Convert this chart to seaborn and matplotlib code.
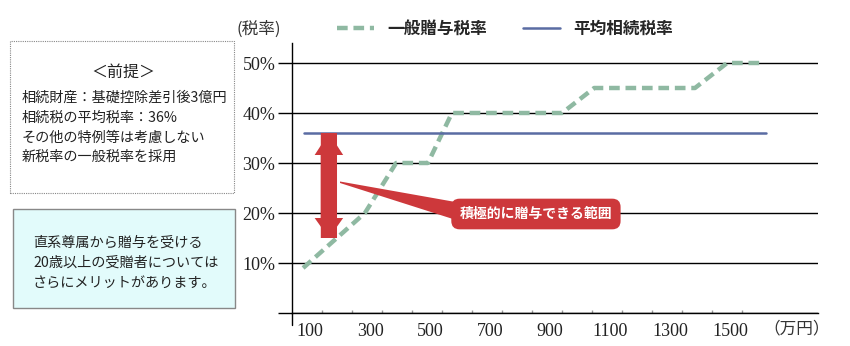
import matplotlib
matplotlib.use("Agg")
import matplotlib.pyplot as plt
import seaborn as sns
import pandas as pd
from matplotlib.lines import Line2D
from matplotlib.patches import Rectangle, Polygon, FancyArrow
from matplotlib.font_manager import FontProperties

# ---------------- data ----------------
gift_x = [77, 180, 283, 387, 493, 573, 940, 1047, 1383, 1490, 1610]
gift_y = [9, 14.5, 20, 30, 30, 40, 40, 45, 45, 50, 50]
avg_x = [80, 1620]
avg_y = [36, 36]
y_ticks = [0, 10, 20, 30, 40, 50]
y_labels = ["", "10%", "20%", "30%", "40%", "50%"]
x_ticks = [100, 300, 500, 700, 900, 1100, 1300, 1500]
x_labels = ["100", "300", "500", "700", "900", "1100", "1300", "1500"]
minor_x = [140, 240, 340, 440, 540, 640, 740, 840, 940, 1040, 1140, 1240, 1340, 1440, 1540]
series_names = ["一般贈与税率", "平均相続税率"]
arrow_x = 163
arrow_range = [15, 36]
callout_text = "積極的に贈与できる範囲"
premise_title = "＜前提＞"
premise_lines = ["相続財産：基礎控除差引後3億円", "相続税の平均税率：36%",
                 "その他の特例等は考慮しない", "新税率の一般税率を採用"]
note_lines = ["直系尊属から贈与を受ける", "20歳以上の受贈者については",
              "さらにメリットがあります。"]

# ---------------- style ----------------
sns.set_style("white")
CJK = ["Noto Sans CJK JP", "DejaVu Sans"]
plt.rcParams["font.family"] = CJK
SERIF = "Liberation Serif"

GREEN = "#8fb9a2"
BLUE = "#5a6ca3"
RED = "#cd383b"

W, H = 850, 346
fig = plt.figure(figsize=(W / 100, H / 100), dpi=100)
ax = fig.add_axes([292 / W, 33 / H, 526 / W, 270 / H])

df_gift = pd.DataFrame({"x": gift_x, "y": gift_y})
df_avg = pd.DataFrame({"x": avg_x, "y": avg_y})
sns.lineplot(data=df_gift, x="x", y="y", ax=ax, color=GREEN, lw=3.2,
             linestyle=(0, (2.4, 1.3)), label=series_names[0], sort=False, zorder=3)
sns.lineplot(data=df_avg, x="x", y="y", ax=ax, color=BLUE, lw=1.8,
             label=series_names[1], sort=False, zorder=3)

ax.set_xlim(40, 1793)
ax.set_ylim(0, 54)
ax.set_xlabel("")
ax.set_ylabel("")
ax.set_yticks(y_ticks)
ax.set_yticklabels(y_labels, family=SERIF, fontsize=13, color="#222")
ax.set_xticks(x_ticks)
ax.set_xticklabels(x_labels, family=SERIF, fontsize=13, color="#222")
ax.set_xticks(minor_x, minor=True)
ax.tick_params(axis="y", which="major", length=10, width=1, color="black",
               direction="out", pad=2, left=True)
ax.tick_params(axis="x", which="major", length=0, pad=7)
ax.tick_params(axis="x", which="minor", length=2, width=1, color="#999",
               direction="in", bottom=True)
ax.grid(axis="y", color="black", lw=1)
ax.grid(axis="x", visible=False)
for s in ["top", "right"]:
    ax.spines[s].set_visible(False)
for s in ["left", "bottom"]:
    ax.spines[s].set_color("black")
    ax.spines[s].set_linewidth(1)
ax.add_line(Line2D([0, 0], [0, -0.045], transform=ax.transAxes, color="black",
                   lw=1, clip_on=False))

# double arrow: two overlapping full-length arrows, heads at opposite ends
lo, hi = arrow_range
ax.add_patch(FancyArrow(arrow_x, lo, 0, hi - lo, width=54, head_width=95,
                        head_length=4.4, length_includes_head=True,
                        color=RED, lw=0, zorder=4))
ax.add_patch(FancyArrow(arrow_x, hi, 0, lo - hi, width=54, head_width=95,
                        head_length=4.0, length_includes_head=True,
                        color=RED, lw=0, zorder=4))

# callout wedge + box
ax.add_patch(Polygon([[200, 26.3], [660, 21.4], [660, 17.2], [200, 26.0]],
                     closed=True, color=RED, lw=0, zorder=4))
ax.text(853, 19.8, callout_text, ha="center", va="center", color="white",
        fontsize=10, fontweight="bold", zorder=5,
        bbox=dict(boxstyle="round,pad=0.6,rounding_size=0.6", fc=RED, ec="none"))

# legend
ax.legend(loc="center left", bbox_to_anchor=(337 / W, 1 - 29 / H),
          bbox_transform=fig.transFigure, ncol=2, frameon=False, borderpad=0,
          borderaxespad=0, handlelength=2.2, handletextpad=0.8, columnspacing=2.2,
          prop=FontProperties(family=CJK, weight="bold", size=12))

# axis titles
fig.text(237 / W, 1 - 29 / H, "(税率)", ha="left", va="center", fontsize=12,
         color="#333")
fig.text(797 / W, 1 - 329 / H, "（万円）", ha="center", va="center",
         fontsize=12, color="#333")

# left boxes
fig.add_artist(Rectangle((10 / W, 1 - 193 / H), 224 / W, 152 / H,
                         transform=fig.transFigure, fill=False, ec="#888",
                         ls=(0, (1, 1)), lw=0.8))
fig.text(123 / W, 1 - 72 / H, premise_title, ha="center", va="center",
         fontsize=11.5, color="#222")
for i, t in enumerate(premise_lines):
    fig.text(22 / W, 1 - (98 + 19.7 * i) / H, t, ha="left", va="center",
             fontsize=10.2, color="#222")

fig.add_artist(Rectangle((13 / W, 1 - 308 / H), 222 / W, 99 / H,
                         transform=fig.transFigure, fc="#e2fbfb", ec="#888",
                         lw=1))
for i, t in enumerate(note_lines):
    fig.text(33 / W, 1 - (243 + 20 * i) / H, t, ha="left", va="center",
             fontsize=10.2, color="#222")

fig.savefig("out.png", dpi=100)
